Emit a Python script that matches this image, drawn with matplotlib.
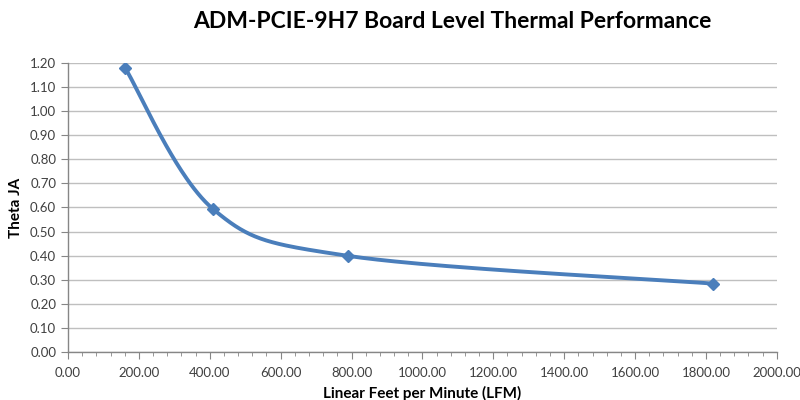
import numpy as np
import matplotlib
matplotlib.use("Agg")
import matplotlib.pyplot as plt
from matplotlib.ticker import MultipleLocator, FormatStrFormatter

lfm = [161, 409, 791, 1820]
theta_ja = [1.18, 0.594, 0.399, 0.284]

title = "ADM-PCIE-9H7 Board Level Thermal Performance"
xlabel = "Linear Feet per Minute (LFM)"
ylabel = "Theta JA"

plt.rcParams['font.family'] = ['Lato', 'DejaVu Sans']

def excel_smooth(x, y, n=60):
    x = np.asarray(x, float); y = np.asarray(y, float)
    px = np.concatenate([[x[0]], x, [x[-1]]])
    py = np.concatenate([[y[0]], y, [y[-1]]])
    xs, ys = [], []
    t = np.linspace(0, 1, n)
    for i in range(1, len(px) - 2):
        p0 = np.array([px[i], py[i]]); p3 = np.array([px[i+1], py[i+1]])
        c1 = p0 + (np.array([px[i+1], py[i+1]]) - np.array([px[i-1], py[i-1]])) / 6
        c2 = p3 - (np.array([px[i+2], py[i+2]]) - np.array([px[i], py[i]])) / 6
        b = ((1-t)**3)[:, None]*p0 + (3*(1-t)**2*t)[:, None]*c1 + (3*(1-t)*t**2)[:, None]*c2 + (t**3)[:, None]*p3
        xs.append(b[:, 0]); ys.append(b[:, 1])
    return np.concatenate(xs), np.concatenate(ys)

fig = plt.figure(figsize=(8, 4), dpi=100)
ax = fig.add_axes([0.085, 0.12, 0.886, 0.7225])

sx, sy = excel_smooth(lfm, theta_ja)
color = '#4a7ebb'
ax.plot(sx, sy, color=color, lw=2.8, solid_capstyle='round', zorder=3)
ax.plot(lfm, theta_ja, linestyle='none', marker='D', color=color, markersize=6, zorder=4)

ax.set_xlim(0, 2000)
ax.set_ylim(0, 1.2)
ax.xaxis.set_major_locator(MultipleLocator(200))
ax.xaxis.set_minor_locator(MultipleLocator(40))
ax.yaxis.set_major_locator(MultipleLocator(0.1))
ax.xaxis.set_major_formatter(FormatStrFormatter('%.2f'))
ax.yaxis.set_major_formatter(FormatStrFormatter('%.2f'))

ax.grid(axis='y', color='#bfbfbf', lw=1)
ax.set_axisbelow(True)
for s in ['top', 'right']:
    ax.spines[s].set_visible(False)
for s in ['left', 'bottom']:
    ax.spines[s].set_color('#868686')
    ax.spines[s].set_linewidth(1)
ax.tick_params(axis='both', which='major', length=5, color='#868686', labelsize=9.5, labelcolor='#404040')
ax.tick_params(axis='x', which='minor', length=3, color='#868686')
ax.tick_params(axis='x', pad=6)

ax.set_xlabel(xlabel, fontsize=11, fontweight='bold', labelpad=5)
ax.set_ylabel(ylabel, fontsize=11, fontweight='bold', labelpad=5)
fig.text(0.566, 0.945, title, ha='center', va='center', fontsize=16.5, fontweight='bold')

fig.savefig('out.png', dpi=100)
